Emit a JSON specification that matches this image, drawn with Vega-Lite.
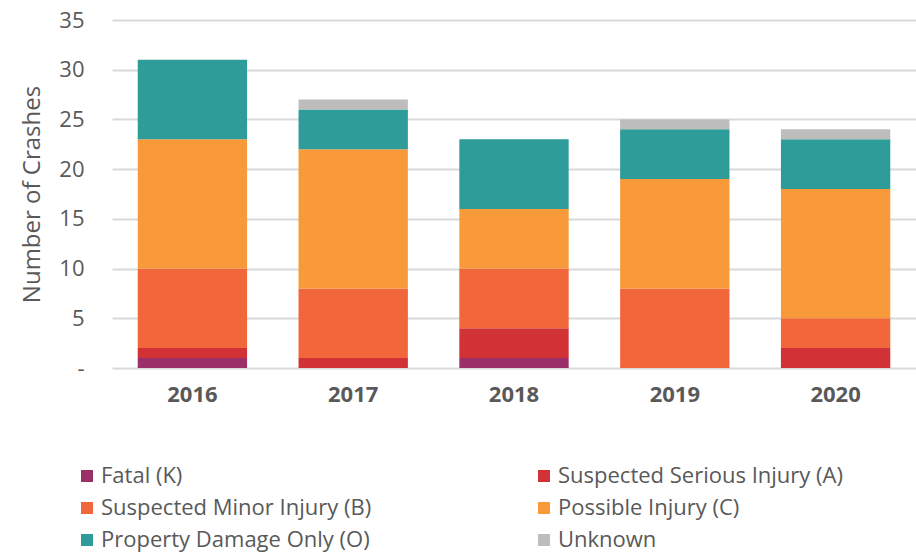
{
  "$schema": "https://vega.github.io/schema/vega-lite/v6.json",
  "width": 804,
  "height": 348,
  "autosize": {"type": "none"},
  "padding": {"left": 112, "top": 20, "right": 0, "bottom": 187},
  "config": {
    "font": "Open Sans",
    "view": {"stroke": null},
    "axis": {"labelColor": "#595959", "titleColor": "#595959"}
  },
  "data": {
    "values": [
      {"year": "2016", "severity": "Fatal (K)", "crashes": 1},
      {"year": "2016", "severity": "Suspected Serious Injury (A)", "crashes": 1},
      {"year": "2016", "severity": "Suspected Minor Injury (B)", "crashes": 8},
      {"year": "2016", "severity": "Possible Injury (C)", "crashes": 13},
      {"year": "2016", "severity": "Property Damage Only (O)", "crashes": 8},
      {"year": "2016", "severity": "Unknown", "crashes": 0},
      {"year": "2017", "severity": "Fatal (K)", "crashes": 0},
      {"year": "2017", "severity": "Suspected Serious Injury (A)", "crashes": 1},
      {"year": "2017", "severity": "Suspected Minor Injury (B)", "crashes": 7},
      {"year": "2017", "severity": "Possible Injury (C)", "crashes": 14},
      {"year": "2017", "severity": "Property Damage Only (O)", "crashes": 4},
      {"year": "2017", "severity": "Unknown", "crashes": 1},
      {"year": "2018", "severity": "Fatal (K)", "crashes": 1},
      {"year": "2018", "severity": "Suspected Serious Injury (A)", "crashes": 3},
      {"year": "2018", "severity": "Suspected Minor Injury (B)", "crashes": 6},
      {"year": "2018", "severity": "Possible Injury (C)", "crashes": 6},
      {"year": "2018", "severity": "Property Damage Only (O)", "crashes": 7},
      {"year": "2018", "severity": "Unknown", "crashes": 0},
      {"year": "2019", "severity": "Fatal (K)", "crashes": 0},
      {"year": "2019", "severity": "Suspected Serious Injury (A)", "crashes": 0},
      {"year": "2019", "severity": "Suspected Minor Injury (B)", "crashes": 8},
      {"year": "2019", "severity": "Possible Injury (C)", "crashes": 11},
      {"year": "2019", "severity": "Property Damage Only (O)", "crashes": 5},
      {"year": "2019", "severity": "Unknown", "crashes": 1},
      {"year": "2020", "severity": "Fatal (K)", "crashes": 0},
      {"year": "2020", "severity": "Suspected Serious Injury (A)", "crashes": 2},
      {"year": "2020", "severity": "Suspected Minor Injury (B)", "crashes": 3},
      {"year": "2020", "severity": "Possible Injury (C)", "crashes": 13},
      {"year": "2020", "severity": "Property Damage Only (O)", "crashes": 5},
      {"year": "2020", "severity": "Unknown", "crashes": 1}
    ]
  },
  "transform": [
    {"calculate": "indexof(['Fatal (K)', 'Suspected Serious Injury (A)', 'Suspected Minor Injury (B)', 'Possible Injury (C)', 'Property Damage Only (O)', 'Unknown'], datum.severity)", "as": "stackRank"}
  ],
  "mark": {"type": "bar"},
  "encoding": {
    "x": {
      "field": "year",
      "type": "nominal",
      "scale": {"paddingInner": 0.32, "paddingOuter": 0.16},
      "axis": {
        "title": null,
        "labelAngle": 0,
        "labelFontSize": 22,
        "labelFontWeight": "bold",
        "labelPadding": 16,
        "ticks": false,
        "domain": false
      }
    },
    "y": {
      "field": "crashes",
      "type": "quantitative",
      "stack": "zero",
      "scale": {"domain": [0, 35]},
      "axis": {
        "title": "Number of Crashes",
        "titleFontSize": 24,
        "titleFontWeight": "normal",
        "titlePadding": 14,
        "values": [0, 5, 10, 15, 20, 25, 30, 35],
        "labelExpr": "datum.value == 0 ? '-' : datum.label",
        "labelFontSize": 22,
        "labelPadding": 28,
        "ticks": false,
        "domain": false,
        "grid": true,
        "gridColor": "#d9d9d9",
        "gridWidth": 2
      }
    },
    "order": {"field": "stackRank", "type": "quantitative", "sort": "ascending"},
    "color": {
      "field": "severity",
      "type": "nominal",
      "scale": {
        "domain": ["Fatal (K)", "Suspected Serious Injury (A)", "Suspected Minor Injury (B)", "Possible Injury (C)", "Property Damage Only (O)", "Unknown"],
        "range": ["#9B3068", "#D03236", "#F1663A", "#F89A3A", "#2E9C99", "#BDBDBD"]
      },
      "legend": {
        "title": null,
        "orient": "none",
        "legendX": -36,
        "legendY": 445,
        "direction": "horizontal",
        "columns": 2,
        "columnPadding": 161,
        "rowPadding": 10,
        "symbolType": "square",
        "symbolSize": 144,
        "symbolStrokeWidth": 0,
        "labelFontSize": 22,
        "labelColor": "#595959",
        "labelOffset": 3,
        "labelLimit": 400
      }
    }
  }
}
